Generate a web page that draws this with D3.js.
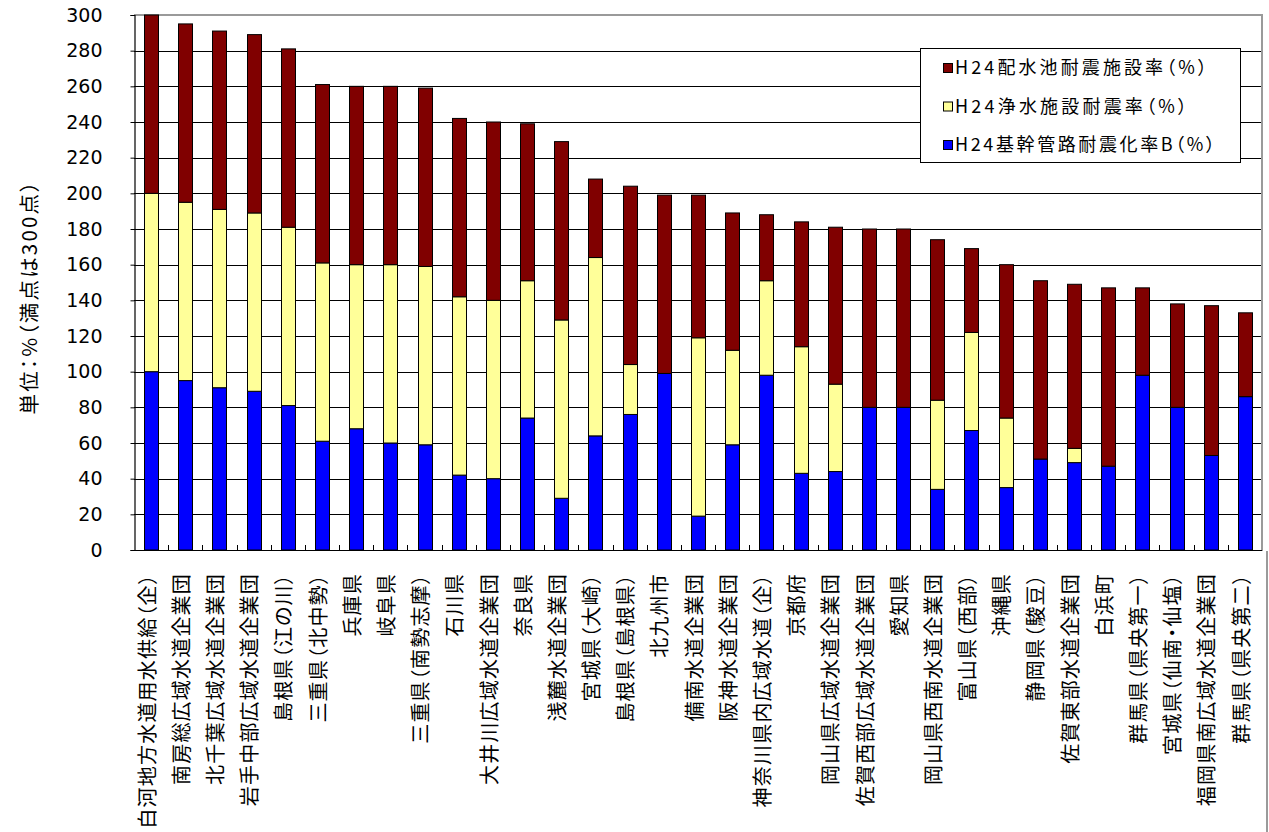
<!DOCTYPE html>
<html>
<head>
<meta charset="utf-8">
<script src="https://cdn.jsdelivr.net/npm/d3@7"></script>
<style>
  html, body { margin: 0; padding: 0; background: #fff; }
  svg { display: block; }
  .palt { font-feature-settings: "palt" 1; }
</style>
</head>
<body>
<svg id="chart" width="1269" height="832"></svg>
<script>
const categories = [
  "白河地方水道用水供給（企）","南房総広域水道企業団","北千葉広域水道企業団","岩手中部広域水道企業団",
  "島根県（江の川）","三重県（北中勢）","兵庫県","岐阜県","三重県（南勢志摩）","石川県",
  "大井川広域水道企業団","奈良県","浅麓水道企業団","宮城県（大崎）","島根県（島根県）","北九州市",
  "備南水道企業団","阪神水道企業団","神奈川県内広域水道（企）","京都府","岡山県広域水道企業団",
  "佐賀西部広域水道企業団","愛知県","岡山県西南水道企業団","富山県（西部）","沖縄県",
  "静岡県（駿豆）","佐賀東部水道企業団","白浜町","群馬県（県央第一）","宮城県（仙南・仙塩）",
  "福岡県南広域水道企業団","群馬県（県央第二）"
];
const pipeB = [100,95,91,89,81,61,68,60,59,42,40,74,29,64,76,99,19,59,98,43,44,80,80,34,67,35,51,49,47,98,80,53,86];
const purify = [100,100,100,100,100,100,92,100,100,100,100,77,100,100,28,0,100,53,53,71,49,0,0,50,55,39,0,8,0,0,0,0,0];
const reservoir = [100,100,100,100,100,100,100,100,100,100,100,88,100,44,100,100,80,77,37,70,88,100,100,90,47,86,100,92,100,49,58,84,47];
const seriesNames = ["H24基幹管路耐震化率B（%）","H24浄水施設耐震率（%）","H24配水池耐震施設率（%）"];
const yTicks = [0,20,40,60,80,100,120,140,160,180,200,220,240,260,280,300];
const yTitle = "単位：%（満点は300点）";

const colors = ["#0000FF","#FFFF99","#800000"];
const svg = d3.select("#chart");

const x = d3.scaleBand().domain(categories).range([134, 1262]).paddingInner(0.59).paddingOuter(0.295);
const y = d3.scaleLinear().domain([0, 300]).range([550, 15]);

const rows = categories.map((c, i) => ({cat: c, s0: pipeB[i], s1: purify[i], s2: reservoir[i]}));
const stack = d3.stack().keys(["s0","s1","s2"])(rows);

// gridlines
svg.append("g").selectAll("line").data(yTicks.filter(t => t > 0 && t < 300)).join("line")
  .attr("x1", 134).attr("x2", 1262)
  .attr("y1", d => Math.round(y(d)) + 0.5).attr("y2", d => Math.round(y(d)) + 0.5)
  .attr("stroke", "#000").attr("stroke-width", 1);

// plot frame top/right (gray)
svg.append("line").attr("x1", 134).attr("x2", 1262).attr("y1", 15).attr("y2", 15)
  .attr("stroke", "#9a9a9a").attr("stroke-width", 2);
svg.append("line").attr("x1", 1262).attr("x2", 1262).attr("y1", 14).attr("y2", 551)
  .attr("stroke", "#9a9a9a").attr("stroke-width", 2);
svg.append("line").attr("x1", 1267).attr("x2", 1267).attr("y1", 551).attr("y2", 832)
  .attr("stroke", "#9a9a9a").attr("stroke-width", 2);

// bars
stack.forEach((layer, li) => {
  svg.append("g").selectAll("rect").data(layer.filter(d => d[1] - d[0] > 0)).join("rect")
    .attr("x", d => Math.round(x(d.data.cat)) + 0.5)
    .attr("width", Math.round(x.bandwidth()))
    .attr("y", d => y(d[1]))
    .attr("height", d => y(d[0]) - y(d[1]))
    .attr("fill", colors[li])
    .attr("stroke", "#000").attr("stroke-width", 1);
});

// y axis
const yAxis = d3.axisLeft(y).tickValues(yTicks).tickSize(4).tickPadding(28).tickFormat(d3.format("d"));
const gy = svg.append("g").attr("transform", "translate(134.5,0)").call(yAxis);
gy.select(".domain").attr("stroke", "#000").attr("stroke-width", 1.2);
gy.selectAll(".tick line").attr("stroke", "#000");
gy.selectAll(".tick text").attr("font-family", "DejaVu Sans, sans-serif").attr("font-size", 19).attr("fill", "#000");

// x axis
svg.append("line").attr("x1", 133).attr("x2", 1262).attr("y1", 550.5).attr("y2", 550.5)
  .attr("stroke", "#000").attr("stroke-width", 1.2);
const step = x.step();
svg.append("g").selectAll("line").data(categories.slice(1)).join("line")
  .attr("x1", d => Math.round(x(d) - (step - x.bandwidth()) / 2) + 0.5)
  .attr("x2", d => Math.round(x(d) - (step - x.bandwidth()) / 2) + 0.5)
  .attr("y1", 545).attr("y2", 550).attr("stroke", "#000");

svg.append("g").selectAll("text").data(categories).join("text")
  .attr("class", "palt")
  .attr("transform", d => `translate(${x(d) + x.bandwidth() / 2 - 4},573) rotate(-90)`)
  .attr("text-anchor", "end")
  .attr("dy", "0.38em")
  .attr("font-family", "'Noto Sans CJK JP', sans-serif")
  .attr("font-size", 20)
  .attr("letter-spacing", 1.2)
  .attr("fill", "#000")
  .text(d => d);

// y title
svg.append("text")
  .attr("class", "palt")
  .attr("transform", "translate(29,298) rotate(-90)")
  .attr("text-anchor", "middle")
  .attr("dy", "0.38em")
  .attr("font-family", "'Noto Sans CJK JP', sans-serif")
  .attr("font-size", 20.5)
  .attr("textLength", 233).attr("lengthAdjust", "spacing")
  .attr("fill", "#000")
  .text(yTitle);

// legend
const lg = svg.append("g");
lg.append("rect").attr("x", 920.5).attr("y", 48.5).attr("width", 320).attr("height", 114)
  .attr("fill", "#fff").attr("stroke", "#000").attr("stroke-width", 1);
const legendOrder = [2, 1, 0];
const rowY = [68, 106.5, 145];
const rowLen = [252, 232, 260];
legendOrder.forEach((si, k) => {
  lg.append("rect").attr("x", 943.5).attr("y", rowY[k] - 4.5).attr("width", 9).attr("height", 9)
    .attr("fill", colors[si]).attr("stroke", "#000").attr("stroke-width", 1);
  lg.append("text").attr("class", "palt").attr("x", 955).attr("y", rowY[k]).attr("dy", "0.36em")
    .attr("font-family", "'Noto Sans CJK JP', sans-serif")
    .attr("font-size", 18)
    .attr("textLength", rowLen[k]).attr("lengthAdjust", "spacing")
    .attr("fill", "#000")
    .text(seriesNames[si]);
});
</script>
</body>
</html>
